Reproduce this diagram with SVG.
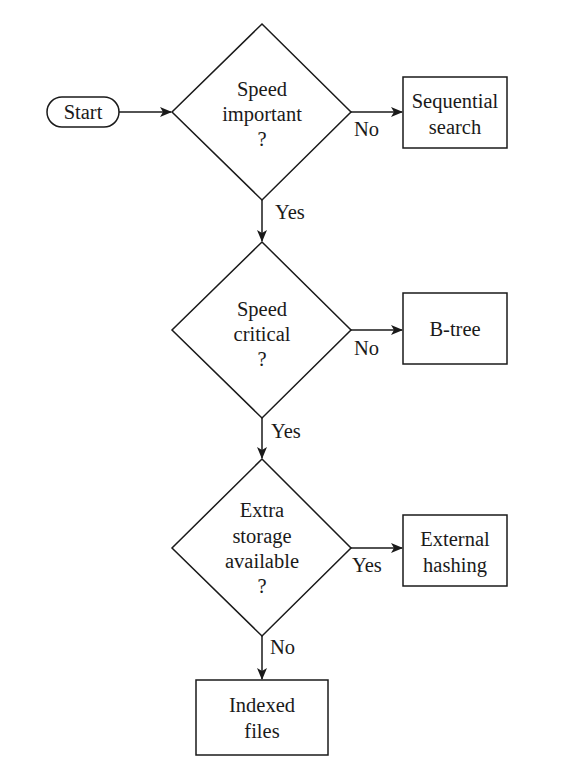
<svg xmlns="http://www.w3.org/2000/svg" width="563" height="773" viewBox="0 0 563 773">
<style>
.s{fill:#fff;stroke:#1a1a1a;stroke-width:1.5}
.t{font-family:"Liberation Serif","Times New Roman",serif;font-size:20.5px;fill:#1a1a1a;text-anchor:middle}
.l{font-family:"Liberation Serif","Times New Roman",serif;font-size:20.5px;fill:#1a1a1a}
.c{stroke:#1a1a1a;stroke-width:1.5;fill:none;marker-end:url(#a)}
</style>
<defs>
<marker id="a" markerWidth="12" markerHeight="10" refX="11" refY="5" orient="auto" markerUnits="userSpaceOnUse">
<path d="M0,0 L12,5 L0,10 L3,5 Z" fill="#1a1a1a"/>
</marker>
</defs>
<rect width="563" height="773" fill="#fff"/>
<g id="connectors">
<line class="c" x1="119" y1="112" x2="171" y2="112"/>
<line class="c" x1="351" y1="112" x2="402" y2="112"/>
<line class="c" x1="262" y1="200" x2="262" y2="241"/>
<line class="c" x1="351" y1="330" x2="402" y2="330"/>
<line class="c" x1="262" y1="418" x2="262" y2="458"/>
<line class="c" x1="351" y1="548" x2="402" y2="548"/>
<line class="c" x1="262" y1="636" x2="262" y2="679"/>
<text class="l" x="354" y="136">No</text>
<text class="l" x="275" y="219">Yes</text>
<text class="l" x="354" y="355">No</text>
<text class="l" x="271" y="438">Yes</text>
<text class="l" x="352" y="572">Yes</text>
<text class="l" x="270" y="654">No</text>
</g>
<g id="start">
<rect class="s" x="47" y="97" width="72" height="30" rx="15"/>
<text class="t" x="83" y="119">Start</text>
</g>
<g id="speed-important">
<polygon class="s" points="262,24 351,112 262,200 172,112"/>
<text class="t" x="262" y="96">Speed</text>
<text class="t" x="262" y="121">important</text>
<text class="t" x="262" y="146">?</text>
</g>
<g id="sequential-search">
<rect class="s" x="403" y="77" width="104" height="71"/>
<text class="t" x="455" y="108">Sequential</text>
<text class="t" x="455" y="134">search</text>
</g>
<g id="speed-critical">
<polygon class="s" points="262,242 351,330 262,418 172,330"/>
<text class="t" x="262" y="316">Speed</text>
<text class="t" x="262" y="341">critical</text>
<text class="t" x="262" y="366">?</text>
</g>
<g id="b-tree">
<rect class="s" x="403" y="293" width="104" height="71"/>
<text class="t" x="455" y="336">B-tree</text>
</g>
<g id="extra-storage">
<polygon class="s" points="262,459 351,548 262,636 172,548"/>
<text class="t" x="262" y="517">Extra</text>
<text class="t" x="262" y="543">storage</text>
<text class="t" x="262" y="568">available</text>
<text class="t" x="262" y="593">?</text>
</g>
<g id="external-hashing">
<rect class="s" x="403" y="515" width="104" height="71"/>
<text class="t" x="455" y="546">External</text>
<text class="t" x="455" y="572">hashing</text>
</g>
<g id="indexed-files">
<rect class="s" x="196" y="680" width="132" height="75"/>
<text class="t" x="262" y="712">Indexed</text>
<text class="t" x="262" y="738">files</text>
</g>
</svg>
